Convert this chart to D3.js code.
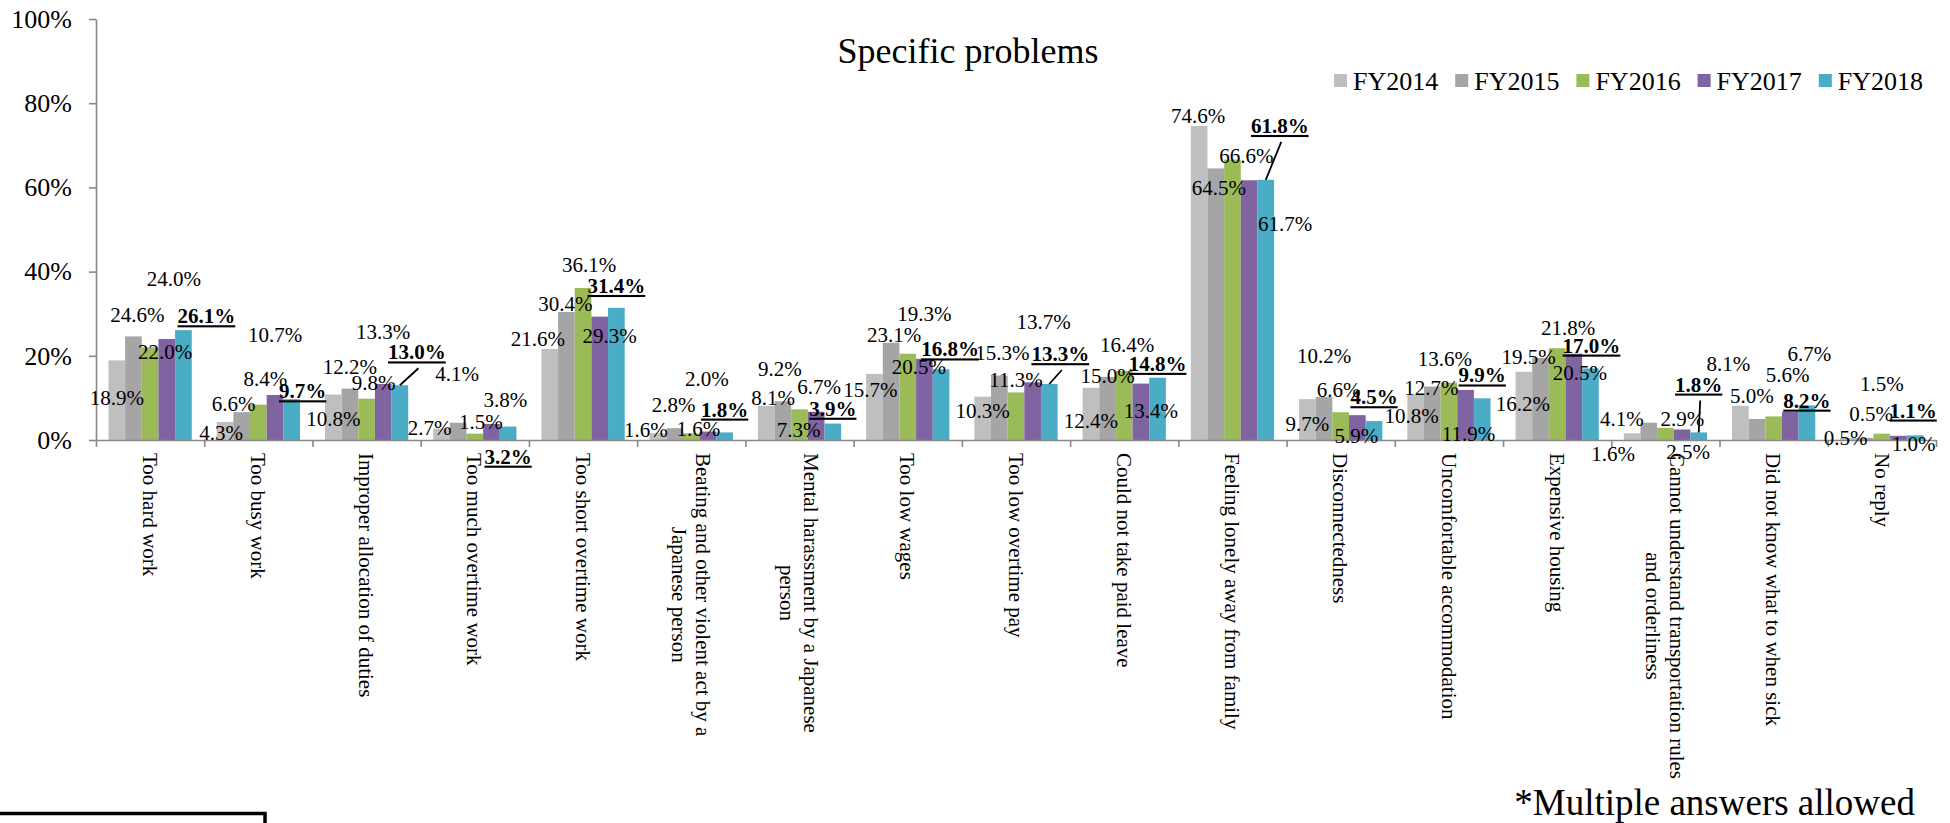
<!DOCTYPE html>
<html>
<head>
<meta charset="utf-8">
<script src="https://cdn.jsdelivr.net/npm/d3@7"></script>
<style>
  body { margin: 0; background: #fff; }
  svg text { font-family: "Liberation Serif", "Times New Roman", serif; fill: #000; }
</style>
</head>
<body>
<script>
// categories (line breaks as in the original axis labels)
const categories = [
    'Too hard work',
    'Too busy work',
    'Improper allocation of duties',
    'Too much overtime work',
    'Too short overtime work',
    'Beating and other violent act by a\nJapanese person',
    'Mental harassment by a Japanese\nperson',
    'Too low wages',
    'Too low overtime pay',
    'Could not take paid leave',
    'Feeling lonely away from family',
    'Disconnectedness',
    'Uncomfortable accommodation',
    'Expensive housing',
    'Cannot understand transportation rules\nand orderliness',
    'Did not know what to when sick',
    'No reply'
];

const years = ['FY2014', 'FY2015', 'FY2016', 'FY2017', 'FY2018'];

const fy2014 = [18.9, 4.3, 10.8, 2.7, 21.6, 1.6, 8.1, 15.7, 10.3, 12.4, 74.6, 9.7, 10.8, 16.2, 1.6, 8.1, 0.5];
const fy2015 = [24.6, 6.6, 12.2, 4.1, 30.4, 2.8, 9.2, 23.1, 15.3, 15.0, 64.5, 10.2, 12.7, 19.5, 4.1, 5.0, 0.5];
const fy2016 = [22.0, 8.4, 9.8, 1.5, 36.1, 1.6, 7.3, 20.5, 11.3, 16.4, 66.6, 6.6, 13.6, 21.8, 2.9, 5.6, 1.5];
const fy2017 = [24.0, 10.7, 13.3, 3.8, 29.3, 2.0, 6.7, 19.3, 13.7, 13.4, 61.7, 5.9, 11.9, 20.5, 2.5, 6.7, 1.0];
const fy2018 = [26.1, 9.7, 13.0, 3.2, 31.4, 1.8, 3.9, 16.8, 13.3, 14.8, 61.8, 4.5, 9.9, 17.0, 1.8, 8.2, 1.1];

const yTicks = [0, 20, 40, 60, 80, 100];

const series = [fy2014, fy2015, fy2016, fy2017, fy2018];
const colors = ['#BFBFBF', '#A5A5A5', '#9BBB59', '#8064A2', '#4BACC6'];

// data label placement (px, label centre relative to bar centre / bar top), hand-moved in the original
const labelOffsets = [
    [[0, 37], [4, -22], [15, 4], [7, -60], [23, -14]],
    [[-4, 11], [-8, -8], [7, -26], [0, -60], [11, -8]],
    [[0, 24], [0, -22], [7, -16], [0, -52], [17, -33]],
    [[-12, -1], [-1, -49], [6, -12], [14, -24], [0, 30]],
    [[-12, -10], [-1, -8], [6, -23], [10, 19], [0, -22]],
    [[-12, -3], [-1, -23], [7, -4], [-1, -53], [0, -23]],
    [[7, -8], [-3, -32], [-1, 21], [3, -25], [0, -15]],
    [[-4, 16], [3, -8], [11, 13], [0, -45], [9, -20]],
    [[0, 14], [3, -23], [0, -13], [11, -60], [11, -30]],
    [[0, 33], [0, -1], [3, -26], [10, 27], [0, -14]],
    [[-1, -10], [3, 19], [14, -4], [36, 44], [14, -54]],
    [[0, 25], [0, -41], [-2, -22], [-1, 21], [0, -24]],
    [[-4, 21], [-1, 1], [-4, -24], [3, 44], [0, -23]],
    [[-1, 32], [-12, -1], [11, -20], [6, 19], [1, -23]],
    [[-19, 21], [-27, -4], [17, -9], [6, 22], [0, -48]],
    [[-12, -42], [-5, -23], [14, -42], [19, -58], [0, -5]],
    [[-3, 0], [6, -24], [0, -50], [15, 8], [-2, -25]]
];
const leaderCats = [2, 8, 10, 14];

const width = 1950;
const height = 823;
const plot = { left: 96, right: 1936, top: 19, bottom: 440 };
const serif = '"Liberation Serif", "Times New Roman", serif';

const svg = d3.select('body').append('svg')
    .attr('width', width)
    .attr('height', height)
    .attr('font-family', serif);

// scales: Excel style, gap width 150%
const x0 = d3.scaleBand()
    .domain(d3.range(categories.length))
    .range([plot.left, plot.right])
    .paddingInner(1.5 / 6.5)
    .paddingOuter(0.75 / 6.5);

const x1 = d3.scaleBand()
    .domain(years)
    .range([0, x0.bandwidth()]);

const y = d3.scaleLinear()
    .domain([0, 100])
    .range([plot.bottom, plot.top]);

const xEdges = d3.scaleLinear()
    .domain([0, categories.length])
    .range([plot.left, plot.right]);

const rows = categories.flatMap((c, i) => years.map((yr, j) => ({ i, j, yr, v: series[j][i] })));
const barMid = d => x0(d.i) + x1(d.yr) + x1.bandwidth() / 2;

// bars
svg.append('g').selectAll('rect')
    .data(rows)
    .join('rect')
    .attr('x', d => x0(d.i) + x1(d.yr))
    .attr('y', d => y(d.v))
    .attr('width', x1.bandwidth())
    .attr('height', d => y(0) - y(d.v))
    .attr('fill', d => colors[d.j]);

// Y axis
const yAxis = svg.append('g')
    .attr('transform', `translate(${plot.left},0)`)
    .call(d3.axisLeft(y).tickValues(yTicks).tickFormat(d => d + '%').tickSize(7).tickSizeOuter(0).tickPadding(17));

// X axis (ticks between categories)
const xAxis = svg.append('g')
    .attr('transform', `translate(0,${plot.bottom})`)
    .call(d3.axisBottom(xEdges).tickValues(d3.range(categories.length + 1)).tickFormat('').tickSize(7).tickSizeOuter(0));

[yAxis, xAxis].forEach(a => {
    a.attr('font-family', serif);
    a.selectAll('path, line').attr('stroke', '#898989').attr('stroke-width', 1.6);
});
yAxis.selectAll('text')
    .attr('font-size', 26)
    .attr('fill', '#000');

// category labels, rotated
const catG = svg.append('g').selectAll('g')
    .data(categories)
    .join('g')
    .attr('transform', (d, i) => `translate(${x0(i) + x0.bandwidth() / 2},453) rotate(90)`);

catG.each(function (d) {
    const lines = d.split('\n');
    const t = d3.select(this).append('text')
        .attr('font-size', 21)
        .attr('text-anchor', 'middle');
    lines.forEach((ln, k) => {
        t.append('tspan')
            .attr('y', (k - (lines.length - 1) / 2) * 24)
            .attr('dy', '0.35em')
            .text(ln);
    });
    const len = d3.max(t.selectAll('tspan').nodes(), n => n.getComputedTextLength());
    t.selectAll('tspan').attr('x', len / 2);
});

// leader lines for moved FY2018 labels
svg.append('g').selectAll('line')
    .data(rows.filter(d => d.j === 4 && leaderCats.includes(d.i)))
    .join('line')
    .attr('x1', d => barMid(d) + labelOffsets[d.i][d.j][0] + 1.5)
    .attr('y1', d => y(d.v) + labelOffsets[d.i][d.j][1] + 16)
    .attr('x2', d => barMid(d))
    .attr('y2', d => y(d.v))
    .attr('stroke', '#000')
    .attr('stroke-width', 1.8);

// data labels
svg.append('g').selectAll('text')
    .data(rows)
    .join('text')
    .attr('x', d => barMid(d) + labelOffsets[d.i][d.j][0])
    .attr('y', d => y(d.v) + labelOffsets[d.i][d.j][1])
    .attr('dy', '0.34em')
    .attr('text-anchor', 'middle')
    .attr('font-size', 21)
    .attr('font-weight', d => d.j === 4 ? 'bold' : 'normal')
    .attr('text-decoration', d => d.j === 4 ? 'underline' : 'none')
    .text(d => d.v.toFixed(1) + '%');

// title
svg.append('text')
    .attr('x', 968)
    .attr('y', 63)
    .attr('text-anchor', 'middle')
    .attr('font-size', 36)
    .text('Specific problems');

// legend
const legend = svg.append('g').selectAll('g')
    .data(years)
    .join('g')
    .attr('transform', (d, j) => `translate(${1334 + j * 121.2},0)`);

legend.append('rect')
    .attr('y', 74)
    .attr('width', 13)
    .attr('height', 13)
    .attr('fill', (d, j) => colors[j]);

legend.append('text')
    .attr('x', 19)
    .attr('y', 90)
    .attr('font-size', 26)
    .text(d => d);

// footnote
svg.append('text')
    .attr('x', 1915)
    .attr('y', 815)
    .attr('text-anchor', 'end')
    .attr('font-size', 37)
    .text('*Multiple answers allowed');

// box edge at bottom left
svg.append('path')
    .attr('d', 'M-5,813.5 H265 V830')
    .attr('fill', 'none')
    .attr('stroke', '#000')
    .attr('stroke-width', 3.5);
</script>
</body>
</html>
